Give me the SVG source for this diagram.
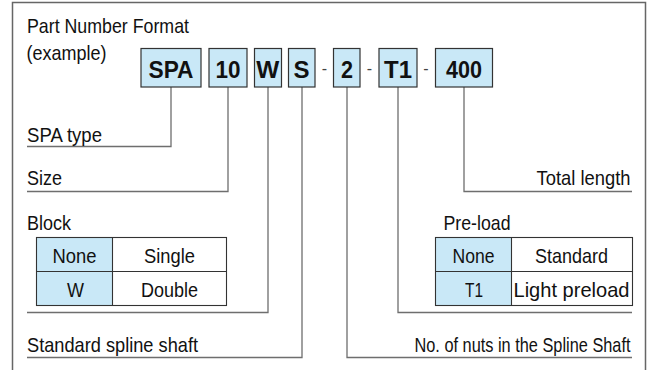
<svg xmlns="http://www.w3.org/2000/svg" width="649" height="370" viewBox="0 0 649 370">
<style>
text{font-family:"Liberation Sans",Arial,Helvetica,sans-serif;fill:#111;}
.lbl{font-size:21px;}
.box{fill:#c9e8f7;stroke:#333;stroke-width:1.2;}
.bt{font-size:24px;font-weight:bold;text-anchor:middle;}
.cell{font-size:21px;text-anchor:middle;}
.blue{fill:#c9e8f7;stroke:none;}
.tbl{fill:none;stroke:#333;stroke-width:1.1;}
.conn{fill:none;stroke:#6e6e6e;stroke-width:1.3;}
.frame{fill:none;stroke:#666;stroke-width:1.5;}
.dash{font-size:16px;text-anchor:middle;fill:#444;}
</style>
<path class="frame" d="M12.5,375 V2.5 H645.5 V375"/>
<g id="title">
<text class="lbl" x="27" y="33" textLength="162" lengthAdjust="spacingAndGlyphs">Part Number Format</text>
<text class="lbl" x="26.5" y="59.5" textLength="80" lengthAdjust="spacingAndGlyphs">(example)</text>
</g>
<g id="connectors">
<path class="conn" d="M171,87 V146.5 H27"/>
<path class="conn" d="M228,87 V191.5 H27"/>
<path class="conn" d="M268,87 V312.5 H27"/>
<path class="conn" d="M302,87 V357.5 H27"/>
<path class="conn" d="M347,87 V357.5 H632"/>
<path class="conn" d="M398,87 V312.5 H632"/>
<path class="conn" d="M464,87 V191.5 H632"/>
</g>
<g id="box-spa"><rect class="box" x="141" y="48.5" width="60" height="38.5"/><text class="bt" x="171" y="77.5" textLength="45" lengthAdjust="spacingAndGlyphs">SPA</text></g>
<g id="box-10"><rect class="box" x="209" y="48.5" width="38" height="38.5"/><text class="bt" x="228" y="77.5" textLength="25" lengthAdjust="spacingAndGlyphs">10</text></g>
<g id="box-w"><rect class="box" x="254.5" y="48.5" width="27" height="38.5"/><text class="bt" x="267.8" y="77.5" textLength="23" lengthAdjust="spacingAndGlyphs">W</text></g>
<g id="box-s"><rect class="box" x="288.5" y="48.5" width="26.5" height="38.5"/><text class="bt" x="301.5" y="77.5" textLength="16" lengthAdjust="spacingAndGlyphs">S</text></g>
<g id="dashes">
<text class="dash" x="324.5" y="73.5">-</text>
<text class="dash" x="369.5" y="73.5">-</text>
<text class="dash" x="426" y="73.5">-</text>
</g>
<g id="box-2"><rect class="box" x="333.5" y="48.5" width="26.5" height="38.5"/><text class="bt" x="347" y="77.5" textLength="12" lengthAdjust="spacingAndGlyphs">2</text></g>
<g id="box-t1"><rect class="box" x="379" y="48.5" width="38" height="38.5"/><text class="bt" x="398" y="77.5" textLength="28" lengthAdjust="spacingAndGlyphs">T1</text></g>
<g id="box-400"><rect class="box" x="435.5" y="48.5" width="57" height="38.5"/><text class="bt" x="464" y="77.5" textLength="36" lengthAdjust="spacingAndGlyphs">400</text></g>
<g id="spa-type"><text class="lbl" x="27" y="141.5" textLength="75" lengthAdjust="spacingAndGlyphs">SPA type</text></g>
<g id="size"><text class="lbl" x="27" y="185" textLength="35" lengthAdjust="spacingAndGlyphs">Size</text></g>
<g id="block">
<text class="lbl" x="27" y="230" textLength="44" lengthAdjust="spacingAndGlyphs">Block</text>
<rect class="blue" x="36.5" y="237.5" width="76" height="68"/>
<rect class="tbl" x="36.5" y="237.5" width="190" height="68"/>
<line class="tbl" x1="36.5" y1="271.5" x2="226.5" y2="271.5"/>
<line class="tbl" x1="112.5" y1="237.5" x2="112.5" y2="305.5"/>
<text class="cell" x="74.5" y="263" textLength="44" lengthAdjust="spacingAndGlyphs">None</text>
<text class="cell" x="169.5" y="263" textLength="51" lengthAdjust="spacingAndGlyphs">Single</text>
<text class="cell" x="75.5" y="297" textLength="17" lengthAdjust="spacingAndGlyphs">W</text>
<text class="cell" x="169.5" y="297" textLength="57" lengthAdjust="spacingAndGlyphs">Double</text>
</g>
<g id="spline-shaft"><text class="lbl" x="27" y="351.5" textLength="171" lengthAdjust="spacingAndGlyphs">Standard spline shaft</text></g>
<g id="total-length"><text class="lbl" x="630.5" y="185" text-anchor="end" textLength="94" lengthAdjust="spacingAndGlyphs">Total length</text></g>
<g id="preload">
<text class="lbl" x="443.5" y="230" textLength="67" lengthAdjust="spacingAndGlyphs">Pre-load</text>
<rect class="blue" x="435.5" y="237.5" width="76" height="68"/>
<rect class="tbl" x="435.5" y="237.5" width="197" height="68"/>
<line class="tbl" x1="435.5" y1="271.5" x2="632.5" y2="271.5"/>
<line class="tbl" x1="511.5" y1="237.5" x2="511.5" y2="305.5"/>
<text class="cell" x="473.5" y="263" textLength="42" lengthAdjust="spacingAndGlyphs">None</text>
<text class="cell" x="571.5" y="263" textLength="73" lengthAdjust="spacingAndGlyphs">Standard</text>
<text class="cell" x="474" y="297" textLength="18" lengthAdjust="spacingAndGlyphs">T1</text>
<text class="cell" x="571.5" y="297" textLength="116" lengthAdjust="spacingAndGlyphs">Light preload</text>
</g>
<g id="nuts"><text class="lbl" x="630.5" y="351.5" text-anchor="end" textLength="216" lengthAdjust="spacingAndGlyphs">No. of nuts in the Spline Shaft</text></g>
</svg>
